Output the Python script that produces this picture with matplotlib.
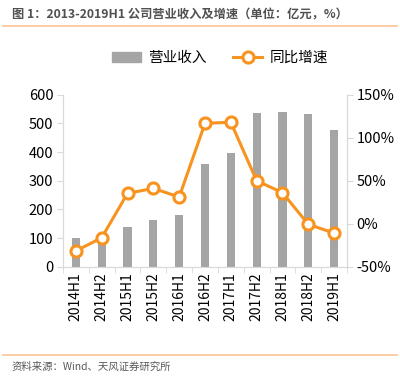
import matplotlib
matplotlib.use("Agg")
import matplotlib.pyplot as plt
from matplotlib.lines import Line2D
from matplotlib.ticker import FixedLocator, FuncFormatter
import numpy as np

plt.rcParams["font.family"] = ["Noto Sans CJK SC", "DejaVu Sans"]

periods = ["2014H1", "2014H2", "2015H1", "2015H2", "2016H1", "2016H2",
           "2017H1", "2017H2", "2018H1", "2018H2", "2019H1"]
revenue = [101, 97, 138, 163, 180, 357, 395, 535, 538, 531, 477]
growth = [-31.7, -16.3, 35.3, 41.0, 31.0, 116.7, 117.9, 50.0, 36.0, -0.7, -11.0]

BAR = "#A5A5A5"; ORANGE = "#F7931E"; RULE = "#F9C494"; INK = "#505050"; SPINE = "#D9D9D9"

fig = plt.figure(figsize=(4.0, 3.88), dpi=100)
ax = fig.add_axes([0.1575, 0.3127, 0.71, 0.4433])
ax2 = ax.twinx()

x = np.arange(len(periods))
ax.bar(x, revenue, width=0.32, color=BAR, zorder=2)
ax2.plot(x, growth, color=ORANGE, lw=2.2, marker="o", ms=8, mfc="white",
         mec=ORANGE, mew=2.2, zorder=3)

ax.set_xlim(-0.5, len(periods) - 0.5)
ax.set_ylim(0, 600)
ax.set_yticks(range(0, 601, 100))
ax2.set_ylim(-50, 150)
ax2.set_yticks(range(-50, 151, 50))
ax2.yaxis.set_major_formatter(FuncFormatter(lambda v, p: f"{v:.0f}%"))

ax.set_xticks(x)
ax.set_xticklabels(periods, rotation=90)
ax.xaxis.set_minor_locator(FixedLocator(np.arange(-0.5, len(periods), 1.0)))
ax.tick_params(axis="x", which="major", length=0, labelsize=10, colors="black", pad=4)
ax.tick_params(axis="x", which="minor", length=4, color=SPINE)
ax.tick_params(axis="y", length=4, color=SPINE, labelsize=10.5, colors="black", pad=3)
ax2.tick_params(axis="y", length=4, color=SPINE, labelsize=10.5, colors="black", pad=3)
for a in (ax, ax2):
    a.spines["top"].set_visible(False)
    for s in ("left", "right", "bottom"):
        a.spines[s].set_color(SPINE)

handles = [plt.Rectangle((0, 0), 1, 1, color=BAR),
           Line2D([], [], color=ORANGE, lw=2.2, marker="o", ms=8, mfc="white", mec=ORANGE, mew=2.2)]
fig.legend(handles, ["营业收入", "同比增速"], loc="center", bbox_to_anchor=(0.55, 0.851),
           ncol=2, frameon=False, fontsize=10.5, handlelength=2.0, columnspacing=1.8,
           handletextpad=0.5)

fig.text(0.03, 0.962, "图 1：2013-2019H1 公司营业收入及增速（单位：亿元，%）", fontsize=8.8,
         color=INK, fontweight="bold", va="center", ha="left")
fig.add_artist(Line2D([0.008, 0.992], [0.933, 0.933], color=RULE, lw=1.2))
fig.add_artist(Line2D([0.008, 0.992], [0.085, 0.085], color=RULE, lw=1.2))
fig.text(0.03, 0.055, "资料来源：Wind、天风证券研究所", fontsize=7.5, color="#595959",
         va="center", ha="left")

fig.savefig("out.png", dpi=100)
